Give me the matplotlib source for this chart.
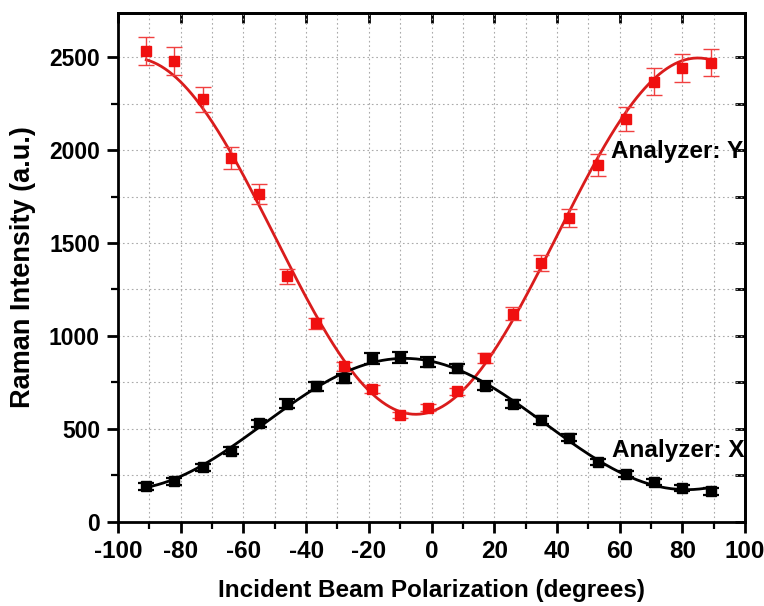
import matplotlib
matplotlib.use("Agg")
import matplotlib.pyplot as plt
import numpy as np
from matplotlib.ticker import MultipleLocator

plt.rcParams["font.family"] = ["Liberation Sans", "DejaVu Sans"]
plt.rcParams["font.weight"] = "bold"
plt.rcParams["axes.unicode_minus"] = False

# incident polarization angle (degrees)
angle = [-91, -82, -73, -64, -55, -46, -37, -28, -19, -10, -1,
         8, 17, 26, 35, 44, 53, 62, 71, 80, 89]

# analyzer Y (red)
y_int = [2532, 2481, 2274, 1957, 1765, 1322, 1067, 836, 713, 573, 613,
         701, 880, 1119, 1394, 1633, 1920, 2166, 2369, 2442, 2471]
y_err = [76, 74, 68, 59, 53, 40, 32, 25, 21, 17, 18,
         21, 26, 34, 42, 49, 58, 65, 71, 73, 74]

# analyzer X (black)
x_int = [190, 218, 292, 383, 530, 636, 728, 771, 879, 884, 860,
         825, 731, 634, 548, 453, 322, 257, 214, 182, 164]
x_err = [18, 18, 18, 18, 20, 22, 24, 25, 28, 28, 26,
         25, 24, 22, 20, 18, 18, 18, 18, 18, 20]

RED = "#f01010"
RED_FIT = "#d91c1c"
BLACK = "#000000"


def cos2_fit(theta_deg, values):
    """Least-squares fit of A + B cos(2t) + C sin(2t) to the measured points."""
    t = np.radians(np.asarray(theta_deg, dtype=float))
    design = np.column_stack([np.ones_like(t), np.cos(2 * t), np.sin(2 * t)])
    coef, *_ = np.linalg.lstsq(design, np.asarray(values, dtype=float), rcond=None)
    tt = np.linspace(t.min(), t.max(), 300)
    fit = coef[0] + coef[1] * np.cos(2 * tt) + coef[2] * np.sin(2 * tt)
    return np.degrees(tt), fit


fig = plt.figure(figsize=(7.64, 6.06), dpi=100)
ax = fig.add_axes([0.1545, 0.1391, 0.8207, 0.840])

ax.set_xlim(-100, 100)
ax.set_ylim(0, 2740)

ax.grid(True, which="both", color="#aaaaaa", linestyle=(0, (1.5, 2.5)), linewidth=0.8)
ax.set_axisbelow(True)

fx, fy = cos2_fit(angle, y_int)
ax.plot(fx, fy, color=RED_FIT, lw=2.0, zorder=3)
fx, fb = cos2_fit(angle, x_int)
ax.plot(fx, fb, color=BLACK, lw=2.0, zorder=3)

ax.errorbar(angle, y_int, yerr=y_err, fmt="s", color=RED, ms=7.5,
            ecolor="#f04040", elinewidth=1.0, capsize=5.5, capthick=1.0, zorder=4)
ax.errorbar(angle, x_int, yerr=x_err, fmt="s", color=BLACK, ms=7.5,
            ecolor=BLACK, elinewidth=1.6, capsize=5.5, capthick=1.6, zorder=4)

ax.text(57.3, 1995, "Analyzer: Y", fontsize=17.5, fontweight="bold",
        va="center", ha="left", zorder=2)
ax.text(57.5, 381, "Analyzer: X", fontsize=17.5, fontweight="bold",
        va="center", ha="left", zorder=2)

ax.xaxis.set_major_locator(MultipleLocator(20))
ax.xaxis.set_minor_locator(MultipleLocator(10))
ax.yaxis.set_major_locator(MultipleLocator(500))
ax.yaxis.set_minor_locator(MultipleLocator(250))

for s in ax.spines.values():
    s.set_linewidth(2.0)
    s.set_zorder(5)

ax.tick_params(axis="x", which="major", direction="out", length=8, width=2,
               labelsize=17.5, pad=5, top=False)
ax.tick_params(axis="x", which="minor", direction="out", length=5, width=1.6, top=False)
ax.tick_params(axis="y", which="major", direction="out", length=8, width=2,
               labelsize=16.5, pad=5, right=False)
ax.tick_params(axis="y", which="minor", direction="out", length=5, width=1.6, right=False)

# mirrored inward ticks on the top and right edges
top = ax.secondary_xaxis("top")
top.set_xticks(np.arange(-100, 101, 20))
top.tick_params(direction="in", length=7, width=2, labeltop=False)
top.tick_params(which="minor", length=0)
top.spines["top"].set_linewidth(2.0)
right = ax.secondary_yaxis("right")
right.set_yticks(np.arange(0, 2741, 250))
right.tick_params(direction="in", length=7, width=2, labelright=False)
right.tick_params(which="minor", length=0)
right.spines["right"].set_linewidth(2.0)

for lab in ax.get_xticklabels() + ax.get_yticklabels():
    lab.set_fontweight("bold")

ax.set_xlabel("Incident Beam Polarization (degrees)", fontsize=17.5,
              fontweight="bold", labelpad=12)
ax.set_ylabel("Raman Intensity (a.u.)", fontsize=19.5, fontweight="bold", labelpad=9)

fig.savefig("out.png", dpi=100)
